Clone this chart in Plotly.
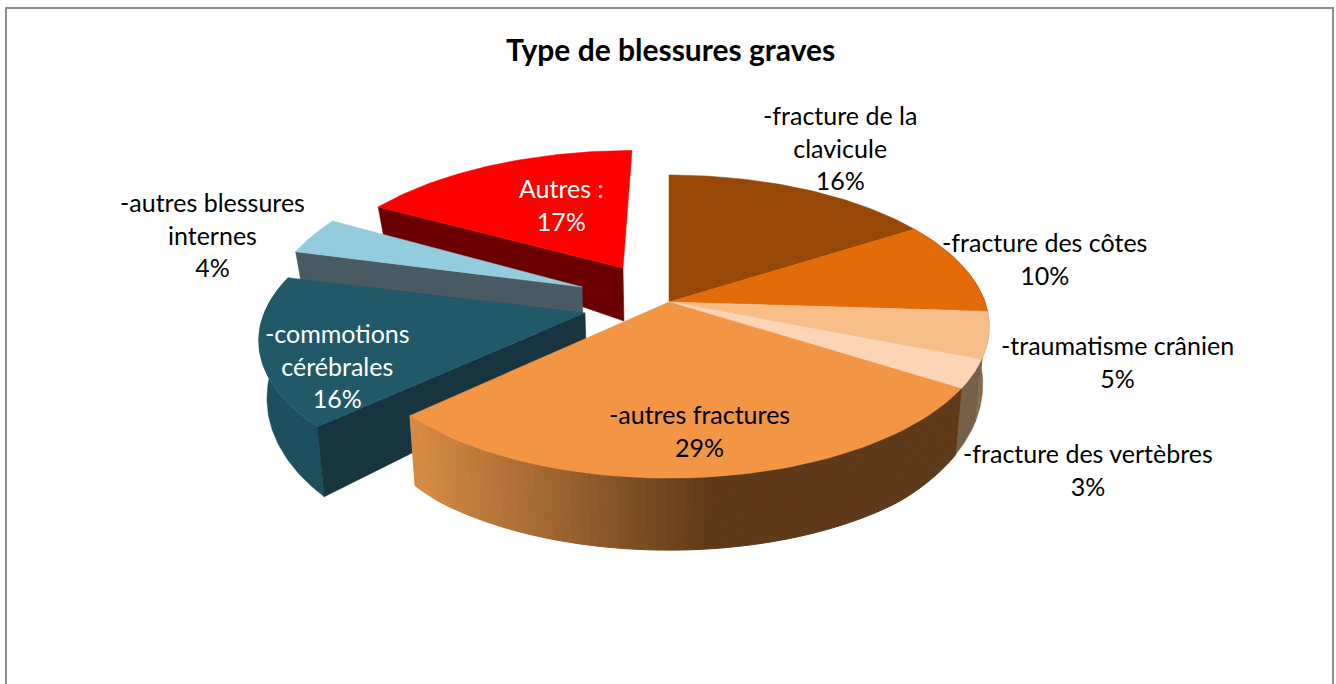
import math
import plotly.graph_objects as go

TITLE = "Type de blessures graves"
categories = ["-fracture de la<br>clavicule", "-fracture des côtes", "-traumatisme crânien",
              "-fracture des vertèbres", "-autres fractures", "-commotions<br>cérébrales",
              "-autres blessures<br>internes", "Autres :"]
values = [16, 10, 5, 3, 29, 16, 4, 17]
top_colors = ["#974706", "#E36C09", "#F7BE8A", "#FBD5B5", "#F29544", "#215968", "#93CDDD", "#FF0000"]
side_colors = ["#6B3A10", "#6B3A10", "#8A6C4C", "#75604A", None, "#17343F", "#4A5A63", "#6B0000"]
label_xy = [(840, 147), (1044, 258), (1117, 361), (1088, 469), (699, 430), (337, 365), (212, 234), (561, 204)]
label_colors = ["#000000"] * 5 + ["#FFFFFF", "#000000", "#FFFFFF"]

# pie geometry (perspective projection of a disc)
A, B, K = 316.0, 147.6, 0.162
# apex and scale of each slice: (apex x, apex y, x scale, y scale, skew)
MAIN = (669, 302, 1.0, 1.0, 0)
EXPLODED = {5: (585, 313, 1.015, 1.0, 7), 6: (582, 287, 0.975, 1.0, 2), 7: (623, 268, 0.97, 0.925, 9)}


def project(theta, g, r=1.0, bottom=False):
    u, v = math.sin(theta) * r, math.cos(theta) * r
    d = 1 + K * v
    x = g[0] + g[2] * A * u / d + g[4] * v
    y = g[1] - g[3] * B * v / d
    if bottom:
        depth = 53 - 45 * v if v > 0 else min(53 - 25 * v, 72)
        y += max(depth, 12)
        x += (669 - x) * 0.02
    return x, y


def arc(a0, a1, g, bottom=False, n=60):
    return [project(a0 + (a1 - a0) * i / n, g, bottom=bottom) for i in range(n + 1)]


def lerp_color(c0, c1, t):
    return "rgb(%d,%d,%d)" % tuple(c0[i] + (c1[i] - c0[i]) * t for i in range(3))


fig = go.Figure()


def poly(pts, color, lw=0.5):
    xs = [p[0] for p in pts] + [pts[0][0]]
    ys = [p[1] for p in pts] + [pts[0][1]]
    fig.add_trace(go.Scatter(x=xs, y=ys, mode="lines", fill="toself", fillcolor=color,
                             line=dict(color=color, width=lw), hoverinfo="skip", showlegend=False))


total = sum(values)
edges = [0.0]
for val in values:
    edges.append(edges[-1] + val / total * 2 * math.pi)


def apex(g, bottom=False):
    return project(0, g, r=0, bottom=bottom)


# exploded slices, back to front
for i in (7, 6, 5):
    g = EXPLODED[i]
    a0, a1 = edges[i], edges[i + 1]
    if i == 5:
        poly(arc(a0, a1, g) + arc(a0, a1, g, bottom=True)[::-1], "#1E4F5E")
    poly([apex(g), project(a0, g), project(a0, g, bottom=True), apex(g, True)], side_colors[i])
    poly([apex(g)] + arc(a0, a1, g), top_colors[i])

# main disc: rim first, then the tops
g = MAIN
for i in (1, 2, 3):
    a0, a1 = edges[i], edges[i + 1]
    poly(arc(a0, a1, g, n=20) + arc(a0, a1, g, bottom=True, n=20)[::-1], side_colors[i])

a0, a1 = edges[4], edges[5]
STEPS = 70
dark, light = (94, 58, 26), (214, 138, 68)
for s in range(STEPS):
    t0 = a0 + (a1 - a0) * s / STEPS
    t1 = a0 + (a1 - a0) * (s + 1) / STEPS
    x_mid = project((t0 + t1) / 2, g)[0]
    frac = min(1.0, max(0.0, (x_mid - 420) / 290))
    poly([project(t0, g), project(t1, g), project(t1, g, bottom=True), project(t0, g, bottom=True)],
         lerp_color(light, dark, frac), lw=1)

for i in range(5):
    poly([apex(g)] + arc(edges[i], edges[i + 1], g), top_colors[i])

annotations = [dict(x=x, y=y, text=f"{c}<br>{v}%", showarrow=False, xanchor="center", yanchor="middle",
                    align="center", font=dict(family="Lato", size=25, color=col))
               for c, v, (x, y), col in zip(categories, values, label_xy, label_colors)]
annotations.append(dict(x=670, y=49, text=f"<b>{TITLE}</b>", showarrow=False, xanchor="center", yanchor="middle",
                        font=dict(family="Lato", size=30, color="#000000")))

fig.update_layout(
    width=1336, height=684, margin=dict(l=0, r=0, t=0, b=0), autosize=False,
    paper_bgcolor="white", plot_bgcolor="white",
    xaxis=dict(range=[0, 1336], visible=False, fixedrange=True),
    yaxis=dict(range=[684, 0], visible=False, fixedrange=True),
    annotations=annotations,
    shapes=[dict(type="path", path="M 6 700 L 6 8 L 1333 8 L 1333 700", xref="x", yref="y",
                 line=dict(color="#8C8C8C", width=2), layer="below")],
)
fig.write_html("out.html", config={"displayModeBar": False},
               post_script="document.body.style.margin='0';document.body.style.overflow='hidden';")
